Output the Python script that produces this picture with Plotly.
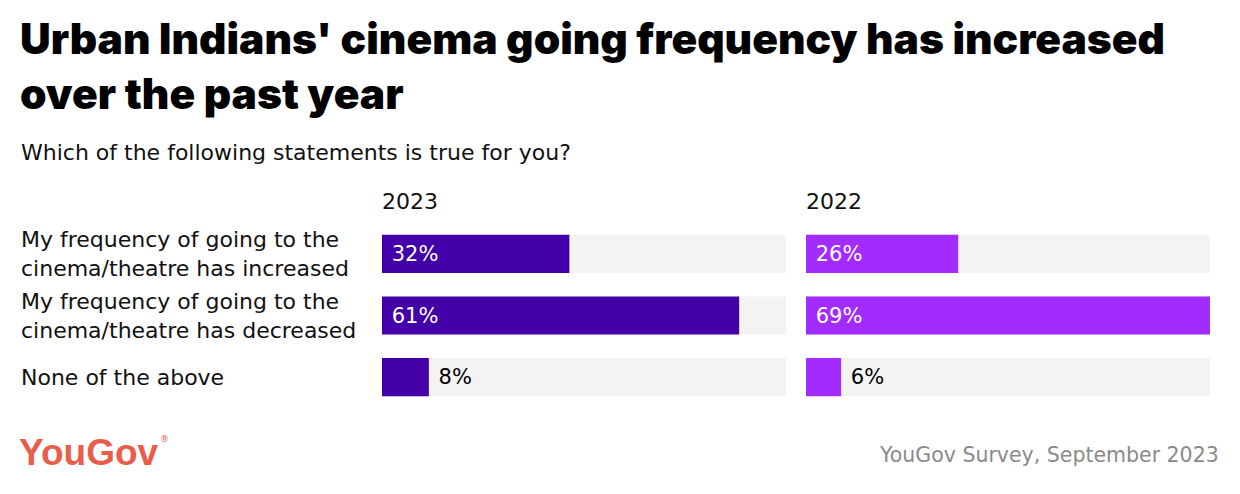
import plotly.graph_objects as go

categories = [
    "My frequency of going to the<br>cinema/theatre has increased",
    "My frequency of going to the<br>cinema/theatre has decreased",
    "None of the above",
]
values_2023 = [32, 61, 8]
values_2022 = [26, 69, 6]
years = ["2023", "2022"]

W, H = 1240, 494
color_2023 = "#4300A8"
color_2022 = "#A22BFF"
track_color = "#F3F3F3"
FONT = "DejaVu Sans"

max_val = max(values_2023 + values_2022)

fig = go.Figure()

panels = [(values_2023, color_2023, "x", "y"), (values_2022, color_2022, "x2", "y2")]
for vals, col, xa, ya in panels:
    fig.add_trace(go.Bar(
        x=[max_val] * len(categories), y=categories, orientation="h",
        marker=dict(color=track_color, line=dict(width=0)),
        width=0.62, xaxis=xa, yaxis=ya, hoverinfo="skip", showlegend=False,
    ))
    inside = [v >= 15 for v in vals]
    fig.add_trace(go.Bar(
        x=vals, y=categories, orientation="h",
        marker=dict(color=col, line=dict(width=0)),
        width=0.62, xaxis=xa, yaxis=ya, showlegend=False,
        texttemplate="\u00a0%{x}%",
        textposition=["inside" if i else "outside" for i in inside],
        insidetextanchor="start",
        textfont=dict(family=FONT, size=21,
                      color=["white" if i else "black" for i in inside]),
        cliponaxis=False,
    ))

x1 = (382 / W, 786 / W)
x2 = (806 / W, 1210 / W)
ydom = (1 - 408 / H, 1 - 223 / H)

axis_common = dict(showgrid=False, zeroline=False, showticklabels=False,
                   showline=False, range=[0, max_val], fixedrange=True)
yaxis_common = dict(showgrid=False, zeroline=False, showticklabels=False,
                    showline=False, categoryorder="array", categoryarray=categories,
                    autorange="reversed", domain=ydom)

fig.update_layout(
    width=W, height=H,
    margin=dict(l=0, r=0, t=0, b=0),
    paper_bgcolor="white", plot_bgcolor="white",
    barmode="overlay",
    uniformtext=dict(mode=False),
    xaxis=dict(domain=x1, anchor="y", **axis_common),
    xaxis2=dict(domain=x2, anchor="y2", **axis_common),
    yaxis=dict(anchor="x", **yaxis_common),
    yaxis2=dict(anchor="x2", **yaxis_common),
    font=dict(family=FONT),
)

ann = []
# Title
ann.append(dict(text="Urban Indians' cinema going frequency has increased<br>over the past year",
                x=18 / W, y=1 - 11 / H, xref="paper", yref="paper",
                xanchor="left", yanchor="top", align="left", showarrow=False,
                font=dict(family="Inter", size=42.5, weight=900, color="black")))
# Subtitle
ann.append(dict(text="Which of the following statements is true for you?",
                x=19 / W, y=1 - 152 / H, xref="paper", yref="paper",
                xanchor="left", yanchor="middle", align="left", showarrow=False,
                font=dict(family=FONT, size=22, color="#111111")))
# Column headers
for yr, dom in zip(years, [x1, x2]):
    ann.append(dict(text=yr, x=dom[0] - 2 / W, y=1 - 201 / H, xref="paper", yref="paper",
                    xanchor="left", yanchor="middle", showarrow=False,
                    font=dict(family=FONT, size=22, color="#111111")))
# Row labels
for c in categories:
    ann.append(dict(text=c, x=19 / W, y=c, xref="paper", yref="y",
                    xanchor="left", yanchor="middle", align="left", showarrow=False,
                    font=dict(family=FONT, size=22, color="#111111")))
# Logo
ann.append(dict(text="<b>YouGov</b>", x=17 / W, y=1 - 452 / H, xref="paper", yref="paper",
                xanchor="left", yanchor="middle", showarrow=False,
                font=dict(family="Liberation Sans", size=37, color="#E95E4B")))
ann.append(dict(text="®", x=158 / W, y=1 - 439 / H, xref="paper", yref="paper",
                xanchor="left", yanchor="middle", showarrow=False,
                font=dict(family=FONT, size=9, color="#E95E4B")))
# Source
ann.append(dict(text="YouGov Survey, September 2023", x=1221 / W, y=1 - 455 / H,
                xref="paper", yref="paper", xanchor="right", yanchor="middle",
                showarrow=False, font=dict(family=FONT, size=20.5, color="#8A8A8A")))

fig.update_layout(annotations=ann)
fig.write_html("out.html", config={"displayModeBar": False},
               post_script="document.body.style.margin='0';")
